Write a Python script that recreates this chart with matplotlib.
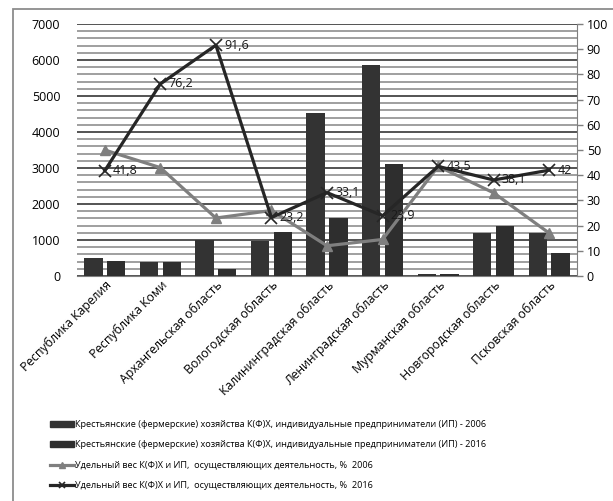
import matplotlib
matplotlib.use("Agg")
import matplotlib.pyplot as plt
from matplotlib.patches import Rectangle, Patch
from matplotlib.lines import Line2D
from matplotlib.ticker import MultipleLocator
import numpy as np

plt.rcParams['font.family'] = ['Open Sans', 'DejaVu Sans']

regions = ["Республика Карелия", "Республика Коми", "Архангельская область",
           "Вологодская область", "Калининградская область", "Ленинградская область",
           "Мурманская область", "Новгородская область", "Псковская область"]
kfh_2006 = [500, 380, 1000, 960, 4530, 5870, 60, 1200, 1200]
kfh_2016 = [420, 400, 200, 1220, 1610, 3110, 60, 1400, 630]
share_2006 = [50, 43, 23, 26, 12, 14.5, 43.5, 33, 17]
share_2016 = [41.8, 76.2, 91.6, 23.2, 33.1, 23.9, 43.5, 38.1, 42]
share_2016_labels = ["41,8", "76,2", "91,6", "23,2", "33,1", "23,9", "43,5", "38,1", "42"]

legend_labels = [
    "Крестьянские (фермерские) хозяйства К(Ф)Х, индивидуальные предприниматели (ИП) - 2006",
    "Крестьянские (фермерские) хозяйства К(Ф)Х, индивидуальные предприниматели (ИП) - 2016",
    "Удельный вес К(Ф)Х и ИП,  осуществляющих деятельность, %  2006",
    "Удельный вес К(Ф)Х и ИП,  осуществляющих деятельность, %  2016",
]

W, H = 613, 501
fig = plt.figure(figsize=(W / 100, H / 100), dpi=100)
fig.patch.set_facecolor('white')

# outer frame
fig.patches.append(Rectangle((13 / W, -0.1), 1.2, 1 - 9 / H + 0.1, transform=fig.transFigure,
                             fill=False, edgecolor='#8c8c8c', linewidth=1.3))

ax = fig.add_axes([77 / W, 1 - 276 / H, 500 / W, 252 / H])
ax2 = ax.twinx()

x = np.arange(len(regions))
bar_c = '#333333'
ax.bar(x - 0.205, kfh_2006, width=0.33, color=bar_c, zorder=3)
ax.bar(x + 0.205, kfh_2016, width=0.33, color='#2e2e2e', zorder=3)

ax.set_ylim(0, 7000)
ax.set_xlim(-0.5, len(regions) - 0.5)
ax.yaxis.set_major_locator(MultipleLocator(1000))
ax.tick_params(axis='y', which='both', length=0, labelsize=9, pad=12)
ax.tick_params(axis='x', length=0, pad=2)
# gridlines: minor every 200, major every 1000
for gy in np.arange(200, 7000, 200):
    if gy % 1000 != 0:
        ax.axhline(gy, color='#858585', linewidth=1.1, zorder=0.5)
ax.yaxis.grid(True, which='major', color='#454545', linewidth=1.3, zorder=0.6)
ax.set_axisbelow(True)
ax.set_xticks(x)
ax.set_xticklabels(regions, rotation=45, ha='right', rotation_mode='anchor', fontsize=8.8)
for s in ['left', 'top', 'right']:
    ax.spines[s].set_visible(False)
ax.spines['bottom'].set_color('#7f7f7f')

ax2.plot(x, share_2006, color='#7f7f7f', linewidth=2.3, marker='^', markersize=7,
         markerfacecolor='#7f7f7f', markeredgecolor='#7f7f7f', zorder=4)
ax2.plot(x, share_2016, color='#262626', linewidth=2.3, marker='x', markersize=8,
         markeredgewidth=1.2, zorder=5)
for xi, v, t in zip(x, share_2016, share_2016_labels):
    ax2.annotate(t, (xi, v), xytext=(6, 0), textcoords='offset points',
                 va='center', ha='left', fontsize=9, color='#1a1a1a', zorder=6)
ax2.set_ylim(0, 100)
ax2.yaxis.set_major_locator(MultipleLocator(10))
ax2.tick_params(axis='y', length=4, width=1, color='#7f7f7f', labelsize=9, pad=3)
for s in ['left', 'top', 'bottom']:
    ax2.spines[s].set_visible(False)
ax2.spines['right'].set_color('#7f7f7f')

handles = [
    Patch(facecolor=bar_c, edgecolor=bar_c),
    Patch(facecolor='#2e2e2e', edgecolor='#2e2e2e'),
    Line2D([0], [0], color='#7f7f7f', linewidth=2.3, marker='^', markersize=4),
    Line2D([0], [0], color='#262626', linewidth=2.3, marker='x', markersize=4, markeredgewidth=1.2),
]
fig.legend(handles, legend_labels, loc='upper left', bbox_to_anchor=(50 / W, 1 - 420 / H),
           frameon=False, fontsize=6.6, labelspacing=1.25, handlelength=2.6,
           handleheight=0.6, handletextpad=0.15, borderaxespad=0, borderpad=0)

fig.savefig("out.png", dpi=100)
